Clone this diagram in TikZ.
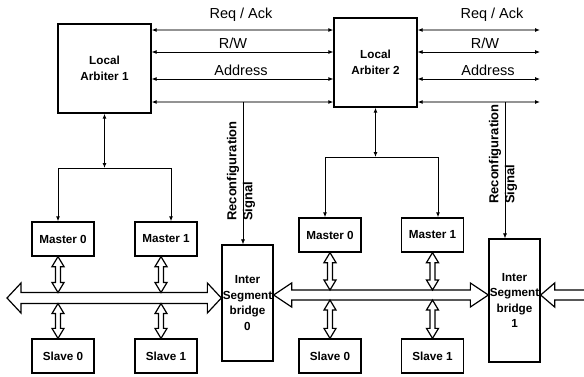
\documentclass[tikz,border=0pt]{standalone}
\usepackage{fontspec}
\setmainfont{Liberation Sans}
\usetikzlibrary{arrows.meta,calc,positioning}
\tikzset{
  block/.style={rectangle,draw=black,line width=1.3pt,fill=white,inner sep=0pt,
    align=center,font=\fontsize{11.7}{15.5}\selectfont\bfseries},
  unit/.style={block,minimum width=62pt,minimum height=34pt},
  wire/.style={draw=black,line width=0.8pt},
  ctrl/.style={draw=gray!85,line width=1.8pt},
  biarrow/.style={{Latex[length=5pt,width=4pt,black]}-{Latex[length=5pt,width=4pt,black]}},
  myarrow/.style={-{Latex[length=5pt,width=4pt,black]}},
  lbl/.style={font=\fontsize{14.5}{16}\selectfont,inner sep=0pt},
  rlbl/.style={rotate=90,align=left,inner sep=0pt,
    font=\fontsize{13}{16}\selectfont\bfseries},
  blockarr/.style={draw=black,fill=white,line width=1.2pt,line join=miter},
}
% outlined double arrow: from, to, head length, head half width, shaft half width
\newcommand\blockarrow[5]{%
  \draw[blockarr] (#1)
    -- ($($(#1)!#3!(#2)$)!#4!90:(#2)$)
    -- ($($(#1)!#3!(#2)$)!#5!90:(#2)$)
    -- ($($(#2)!#3!(#1)$)!#5!-90:(#1)$)
    -- ($($(#2)!#3!(#1)$)!#4!-90:(#1)$)
    -- (#2)
    -- ($($(#2)!#3!(#1)$)!#4!90:(#1)$)
    -- ($($(#2)!#3!(#1)$)!#5!90:(#1)$)
    -- ($($(#1)!#3!(#2)$)!#5!-90:(#2)$)
    -- ($($(#1)!#3!(#2)$)!#4!-90:(#2)$)
    -- cycle;}

\begin{document}
\begin{tikzpicture}[x=1pt,y=-1pt]
  \useasboundingbox (0,0) rectangle (584,376);
  % arbiters
  \node[block,minimum width=93pt,minimum height=89pt] (arbA) at (104.5,68.5) {Local\\Arbiter 1};
  \node[block,minimum width=83pt,minimum height=89pt] (arbB) at (375.5,62.5) {Local\\Arbiter 2};
  % segment 0
  \node[unit] (mA0) at (63,239) {Master 0};
  \node[unit] (mA1) at (166,239) {Master 1};
  \node[unit] (sA0) at (63,356) {Slave 0};
  \node[unit] (sA1) at (166,356) {Slave 1};
  % segment 1
  \node[unit] (mB0) at (330,235) {Master 0};
  \node[unit] (mB1) at (432.5,235) {Master 1};
  \node[unit] (sB0) at (330,356) {Slave 0};
  \node[unit] (sB1) at (432.5,356) {Slave 1};
  % bridges
  \node[block,minimum width=51pt,minimum height=116pt] (brA) at (247.5,303) {Inter\\Segment\\bridge\\0};
  \node[block,minimum width=51pt,minimum height=123pt] (brB) at (514.5,300.5) {Inter\\Segment\\bridge\\1};

  % control lines between arbiters
  \coordinate (endR) at (540,0);
  \foreach \y/\st in {30/ctrl,52/wire,79/wire,102/ctrl}{
    \draw[\st,biarrow] (arbA.east |- 0,\y) -- (arbB.west |- 0,\y);
    \draw[\st,biarrow] (arbB.east |- 0,\y) -- (endR |- 0,\y);
  }
  \node[lbl] (reqA) at (241,15) {Req / Ack};
  \node[lbl] (rwA) at (233,43) {R/W};
  \node[lbl] (adrA) at (241,70) {Address};
  \node[lbl] (reqB) at (492,15) {Req / Ack};
  \node[lbl] (rwB) at (485,43) {R/W};
  \node[lbl] (adrB) at (488,70) {Address};

  % reconfiguration signals
  \coordinate (tapA) at (243,102);
  \coordinate (tapB) at (505,102);
  \draw[wire,line width=0.7pt,myarrow] (tapA) -- (tapA |- brA.north);
  \draw[wire,line width=0.7pt,myarrow] (tapB) -- (tapB |- brB.north);
  \node[rlbl] (cfgA) at (241,171) {Reconfiguration\\Signal};
  \node[rlbl] (cfgB) at (503,154) {Reconfiguration\\Signal};

  % arbiter to masters
  \coordinate (hubA) at (arbA.south |- 0,168);
  \coordinate (hubB) at (arbB.south |- 0,157);
  \draw[wire,line width=1pt,biarrow] (arbA.south) -- (hubA);
  \draw[wire,line width=1pt,biarrow] (arbB.south) -- (hubB);
  \draw[wire,line width=1pt,myarrow] (hubA) -| ($(mA0.north)+(-5,0)$);
  \draw[wire,line width=1pt,myarrow] (hubA) -| ($(mA1.north)+(5,0)$);
  \draw[wire,line width=1pt,myarrow] (hubB) -| ($(mB0.north)+(-5,0)$);
  \draw[wire,line width=1pt,myarrow] (hubB) -| ($(mB1.north)+(5.5,0)$);

  % buses
  \coordinate (busAl) at (7,298);
  \coordinate (busAr) at (brA.west |- busAl);
  \blockarrow{busAl}{busAr}{14pt}{15pt}{5.5pt}
  \coordinate (busBl) at (brA.east |- 0,295);
  \coordinate (busBr) at (brB.west |- 0,295);
  \blockarrow{busBl}{busBr}{18pt}{12pt}{5pt}
  \coordinate (busCl) at (brB.east |- 0,295);
  \draw[blockarr] (586,290) -- ($(busCl)+(14,-5)$) -- ($(busCl)+(14,-12)$) -- (busCl)
    -- ($(busCl)+(14,12)$) -- ($(busCl)+(14,5)$) -- (586,300);

  % master / slave taps
  \foreach \m/\s/\dx/\bt/\bb in {mA0/sA0/-5/292.5/303.5,mA1/sA1/-5/292.5/303.5,
      mB0/sB0/0/290/300,mB1/sB1/0/290/300}{
    \coordinate (mt) at ($(\m.south)+(\dx,0)$);
    \coordinate (st) at ($(\s.north)+(\dx,0)$);
    \coordinate (bt) at (mt |- 0,\bt);
    \coordinate (bb) at (st |- 0,\bb);
    \blockarrow{mt}{bt}{10pt}{6pt}{2.5pt}
    \blockarrow{bb}{st}{10pt}{6pt}{2.5pt}
  }
\end{tikzpicture}
\end{document}
